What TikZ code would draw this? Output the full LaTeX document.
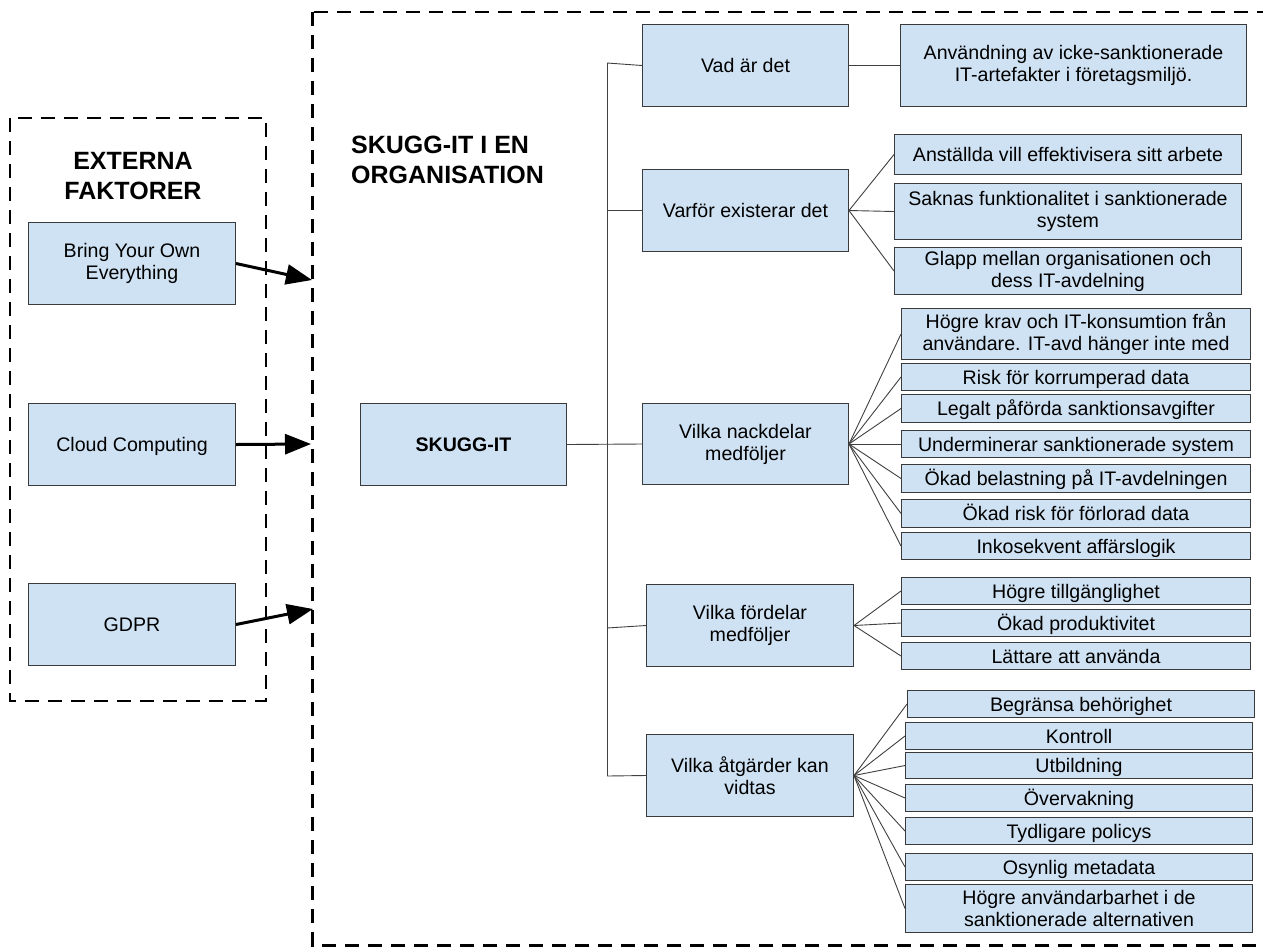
\documentclass[tikz,border=0pt]{standalone}
\usepackage{fontspec}
\setmainfont{Liberation Sans}
\usetikzlibrary{arrows.meta}
\definecolor{boxfill}{HTML}{CFE2F3}
\definecolor{boxline}{HTML}{3A3A3A}
\definecolor{conncol}{HTML}{404040}
\tikzset{
  bx/.style={draw=boxline, fill=boxfill, line width=1pt, align=center, inner sep=0pt,
    anchor=north west, font=\fontsize{19.6}{22}\selectfont},
  bxs/.style={bx, text height=14pt, text depth=0pt},
  ttl/.style={font=\fontsize{25}{30}\selectfont\bfseries, align=center, inner sep=0pt},
  conn/.style={draw=conncol, line width=0.9pt},
  arr/.style={line width=3pt, -{Triangle[length=26pt,width=20pt]}},
  dashbox/.style={draw=black, line width=2.6pt, dash pattern=on 14pt off 9pt}
}
\begin{document}
\begin{tikzpicture}[x=1pt,y=-1pt]
\useasboundingbox (0,0) rectangle (1263,946);
\clip (0,0) rectangle (1263,946);

% dashed containers
\draw[dashbox] (10,118) rectangle (266,701);
\draw[dashbox] (312.5,12) rectangle (1330,945.5);

% titles
\node[ttl] (exttitle) at (133,176) {EXTERNA\\FAKTORER};
\node[ttl, anchor=west, align=left] (orgtitle) at (351,160) {SKUGG-IT I EN\\ORGANISATION};

% external factors
\node[bx, minimum width=207pt, minimum height=82pt] (byoe) at (28,222) {Bring Your Own\\Everything};
\node[bxs, minimum width=207pt, minimum height=82pt] (cloud) at (28,403) {Cloud Computing};
\node[bxs, minimum width=207pt, minimum height=82pt] (gdpr) at (28,583) {GDPR};

\coordinate (a1) at (312,280);
\coordinate (a2) at (311,444);
\coordinate (a3) at (313,609);
\draw[arr] (byoe.east) -- (a1);
\draw[arr] (cloud.east) -- (a2);
\draw[arr] (gdpr.east) -- (a3);

% central
\node[bxs, font=\fontsize{19.6}{22}\selectfont\bfseries, minimum width=206pt, minimum height=82pt] (skugg) at (360,403) {SKUGG-IT};

% level 1
\node[bxs, minimum width=206pt, minimum height=82pt] (vad) at (642,24) {Vad är det};
\node[bxs, minimum width=206pt, minimum height=82pt] (varfor) at (642,169) {Varför existerar det};
\node[bx, minimum width=206pt, minimum height=81pt] (nack) at (642,403) {Vilka nackdelar\\medföljer};
\node[bx, minimum width=207pt, minimum height=82pt] (ford) at (646,584) {Vilka fördelar\\medföljer};
\node[bx, minimum width=207pt, minimum height=82pt] (atg) at (646,734) {Vilka åtgärder kan\\vidtas};

% level 2
\node[bx, minimum width=346pt, minimum height=82pt] (def) at (900,24) {Användning av icke-sanktionerade\\IT-artefakter i företagsmiljö.};

\node[bxs, minimum width=347pt, minimum height=40pt] (anst) at (894,134) {Anställda vill effektivisera sitt arbete};
\node[bx, minimum width=347pt, minimum height=56pt] (saknas) at (894,183) {Saknas funktionalitet i sanktionerade\\system};
\node[bx, minimum width=347pt, minimum height=47pt] (glapp) at (894,247) {Glapp mellan organisationen och\\dess IT-avdelning};

\node[bx, minimum width=349pt, minimum height=51pt] (hk) at (901,308) {Högre krav och IT-konsumtion från\\användare. IT-avd hänger inte med};
\node[bxs, minimum width=349pt, minimum height=27pt] (risk) at (901,363) {Risk för korrumperad data};
\node[bxs, minimum width=349pt, minimum height=28pt] (legalt) at (901,394) {Legalt påförda sanktionsavgifter};
\node[bxs, minimum width=349pt, minimum height=27pt] (underm) at (901,430) {Underminerar sanktionerade system};
\node[bxs, minimum width=349pt, minimum height=28pt] (okbel) at (901,464) {Ökad belastning på IT-avdelningen};
\node[bxs, minimum width=349pt, minimum height=28pt] (okrisk) at (901,499) {Ökad risk för förlorad data};
\node[bxs, minimum width=349pt, minimum height=27pt] (inkos) at (901,532) {Inkosekvent affärslogik};

\node[bxs, minimum width=349pt, minimum height=27pt] (htillg) at (901,577) {Högre tillgänglighet};
\node[bxs, minimum width=349pt, minimum height=27pt] (okprod) at (901,609) {Ökad produktivitet};
\node[bxs, minimum width=349pt, minimum height=27pt] (latt) at (901,642) {Lättare att använda};

\node[bxs, minimum width=347pt, minimum height=27pt] (begr) at (907,690) {Begränsa behörighet};
\node[bxs, minimum width=347pt, minimum height=27pt] (kontr) at (905,722) {Kontroll};
\node[bxs, minimum width=347pt, minimum height=26pt] (utb) at (905,752) {Utbildning};
\node[bxs, minimum width=347pt, minimum height=27pt] (overv) at (905,784) {Övervakning};
\node[bxs, minimum width=347pt, minimum height=27pt] (tydl) at (905,817) {Tydligare policys};
\node[bxs, minimum width=347pt, minimum height=27pt] (osyn) at (905,853) {Osynlig metadata};
\node[bx, minimum width=347pt, minimum height=48pt] (hanv) at (905,884) {Högre användarbarhet i de\\sanktionerade alternativen};

% trunk
\coordinate (ttop) at (607,63);
\coordinate (tford) at (607,628);
\coordinate (tbot) at (607,776);
\draw[conn] (ttop) -- (tbot);
\draw[conn] (ttop) -- (vad.west);
\draw[conn] (varfor.west -| ttop) -- (varfor.west);
\draw[conn] (skugg.east) -- (nack.west);
\draw[conn] (tford) -- (ford.west);
\draw[conn] (tbot) -- (atg.west);

% fans
\draw[conn] (vad.east) -- (def.west);
\foreach \c in {anst,saknas,glapp} \draw[conn] (varfor.east) -- (\c.west);
\foreach \c in {hk,risk,legalt,underm,okbel,okrisk,inkos} \draw[conn] (nack.east) -- (\c.west);
\foreach \c in {htillg,okprod,latt} \draw[conn] (ford.east) -- (\c.west);
\foreach \c in {begr,kontr,utb,overv,tydl,osyn,hanv} \draw[conn] (atg.east) -- (\c.west);
\end{tikzpicture}
\end{document}
